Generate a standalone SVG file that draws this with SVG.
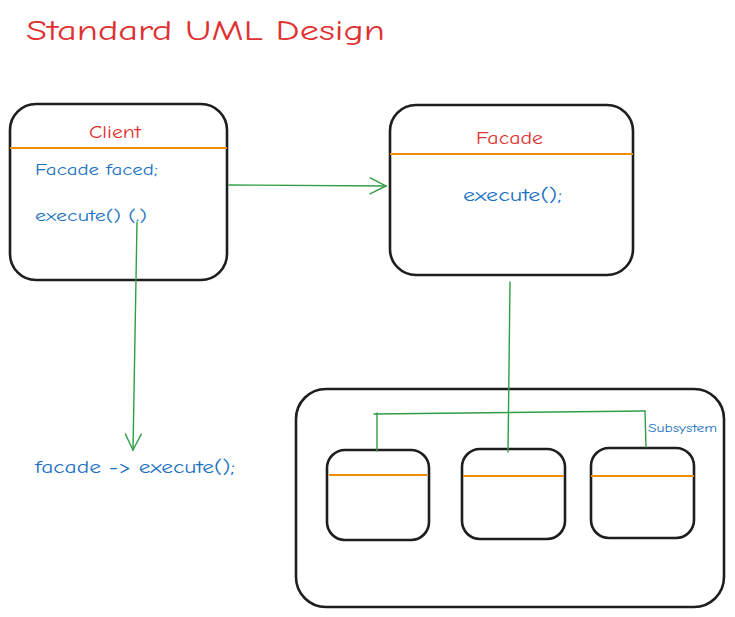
<svg xmlns="http://www.w3.org/2000/svg" width="735" height="617" viewBox="0 0 735 617">
<style>
.box{fill:#fff;stroke:#1e1e1e;stroke-width:2.6}
.div{stroke:#f08c00;stroke-width:2;fill:none}
.con{stroke:#2f9e44;stroke-width:1.4;fill:none;stroke-linecap:round}
.t{font-family:"Comic Neue","Liberation Sans",sans-serif}
.red{fill:#e03131}
.blue{fill:#1971c2}
</style>
<defs>
<marker id="ah" viewBox="0 0 20 20" refX="18" refY="10" markerWidth="20" markerHeight="20" markerUnits="userSpaceOnUse" orient="auto">
<path d="M2 2 L18 10 L2 18" fill="none" stroke="#2f9e44" stroke-width="1.4" stroke-linecap="round"/>
</marker>
</defs>
<rect width="735" height="617" fill="#fff"/>
<text class="t red" x="26" y="40" font-size="29" textLength="359" lengthAdjust="spacingAndGlyphs">Standard UML Design</text>

<g id="subsystem">
<rect class="box" x="296" y="389" width="428" height="218" rx="30"/>
<text class="t blue" x="648" y="432" font-size="12" textLength="69" lengthAdjust="spacingAndGlyphs">Subsystem</text>
</g>

<g id="client">
<rect class="box" x="10" y="104" width="217" height="176" rx="26"/>
<line class="div" x1="10" y1="148" x2="227" y2="148"/>
<text class="t red" x="89" y="138" font-size="17" textLength="52" lengthAdjust="spacingAndGlyphs">Client</text>
<text class="t blue" x="35" y="175" font-size="15" textLength="123" lengthAdjust="spacingAndGlyphs">Facade faced;</text>
<text class="t blue" x="35" y="221" font-size="15" textLength="112" lengthAdjust="spacingAndGlyphs">execute() (.)</text>
</g>

<g id="facade">
<rect class="box" x="390" y="105" width="243" height="170" rx="26"/>
<line class="div" x1="390" y1="154" x2="633" y2="154"/>
<text class="t red" x="476" y="144" font-size="17" textLength="67" lengthAdjust="spacingAndGlyphs">Facade</text>
<text class="t blue" x="463" y="201" font-size="17" textLength="99" lengthAdjust="spacingAndGlyphs">execute();</text>
</g>

<g id="call">
<text class="t blue" x="35" y="473" font-size="17" textLength="200" lengthAdjust="spacingAndGlyphs">facade -&gt; execute();</text>
</g>

<g id="sub1">
<rect class="box" x="327" y="450" width="102" height="90" rx="18"/>
<line class="div" x1="329" y1="475" x2="427" y2="475"/>
</g>
<g id="sub2">
<rect class="box" x="462" y="449" width="103" height="90" rx="18"/>
<line class="div" x1="463" y1="476" x2="564" y2="476"/>
</g>
<g id="sub3">
<rect class="box" x="591" y="448" width="103" height="90" rx="18"/>
<line class="div" x1="591" y1="476" x2="694" y2="476"/>
</g>

<g id="connectors">
<path class="con" d="M229 185 L386 186" marker-end="url(#ah)"/>
<path class="con" d="M137 222 L133 450" marker-end="url(#ah)"/>
<path class="con" d="M510 282 L508 452"/>
<path class="con" d="M374 414 L645 411"/>
<path class="con" d="M377 413 L377 451"/>
<path class="con" d="M645 411 L646 447"/>
</g>
</svg>
